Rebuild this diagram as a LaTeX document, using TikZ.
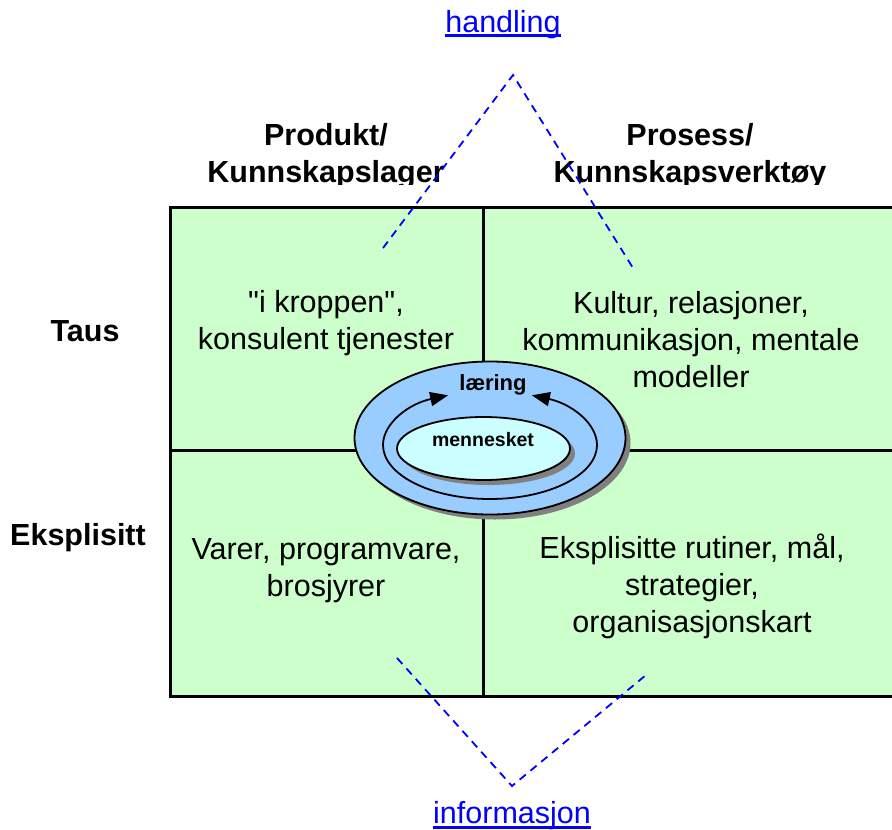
\documentclass[tikz,border=0pt]{standalone}
\usepackage{fontspec}
\setmainfont{Liberation Sans}
\usetikzlibrary{shapes.geometric,shadows,arrows.meta}
\definecolor{cellgreen}{HTML}{CCFFCC}
\definecolor{ringblue}{HTML}{99CCFF}
\definecolor{corecyan}{HTML}{CCFFFF}
\definecolor{linkblue}{HTML}{0000FF}
\definecolor{shadowgray}{HTML}{808080}
\newcommand{\bodyfont}{\fontsize{30.5}{37}\selectfont}
\newcommand{\headfont}{\fontsize{30.5}{37}\selectfont\bfseries}
% straight double quote, set as a glyph so the TeX ligature mapping leaves it alone
\newcommand{\dq}{\XeTeXglyph\XeTeXcharglyph"22\relax}
\tikzset{
  celltext/.style={align=center, font=\bodyfont, inner sep=0pt},
  headtext/.style={align=center, font=\headfont, inner sep=0pt},
  gridline/.style={line width=3pt, black},
  dashline/.style={linkblue, line width=1.8pt, dash pattern=on 8pt off 6pt},
  linklabel/.style={text=linkblue, font=\bodyfont, inner sep=0pt, anchor=base},
  ringshadow/.style={drop shadow={shadow xshift=5pt, shadow yshift=-5pt, fill=shadowgray, opacity=1}},
  cyclearrow/.style={line width=1.8pt, -{Triangle[length=18pt,width=14pt]}},
}
\begin{document}
\begin{tikzpicture}[x=1pt, y=-1pt]
\useasboundingbox (0,0) rectangle (892,830);
\clip (0,0) rectangle (892,830);

% quadrants
\fill[cellgreen] (170,207) rectangle (900,696);
\draw[gridline] (900,207) -- (170,207) -- (170,696) -- (900,696);
\draw[gridline] (483,207) -- (483,696);
\draw[gridline] (170,450) -- (900,450);

% column headers (bottom edge trimmed)
\begin{scope}
  \clip (150,90) rectangle (892,184);
  \node[headtext] (hprod) at (326,156) {Produkt/\\Kunnskapslager};
  \node[headtext] (hpros) at (690,156) {Prosess/\\Kunnskapsverktøy};
\end{scope}

% row headers
\node[headtext] (taus) at (85,331) {Taus};
\node[headtext] (eksp) at (78,538) {Eksplisitt};

% cell texts
\node[celltext] (c11) at (326,323) {\dq i kroppen\dq,\\konsulent tjenester};
\node[celltext] (c12) at (691,340) {Kultur, relasjoner,\\kommunikasjon, mentale\\modeller};
\node[celltext] (c21) at (326,571) {Varer, programvare,\\brosjyrer};
\node[celltext] (c22) at (692,586) {Eksplisitte rutiner, mål,\\strategier,\\organisasjonskart};

% dashed links to the two outer labels
\coordinate (topapex) at (513,75);
\coordinate (topl) at (383,248);
\coordinate (topr) at (633,268);
\coordinate (botapex) at (512,786);
\coordinate (botl) at (397,658);
\coordinate (botr) at (646,675);
\draw[dashline] (topl) -- (topapex) -- (topr);
\draw[dashline] (botl) -- (botapex) -- (botr);

\node[linklabel] (handling) at (503,32) {handling};
\draw[linkblue, line width=2.4pt] ([yshift=-3.5pt]handling.base west) -- ([yshift=-3.5pt]handling.base east);
\node[linklabel] (info) at (512,823) {informasjon};
\draw[linkblue, line width=2.4pt] ([yshift=-4.5pt]info.base west) -- ([yshift=-4.5pt]info.base east);

% central rings
\node[ellipse, draw, line width=1.8pt, fill=ringblue, ringshadow,
      minimum width=271pt, minimum height=153pt, inner sep=0pt] (outer) at (490,438) {};
\coordinate (mid) at (490,445);
\draw[cyclearrow] ([yshift=-54pt]mid) arc[start angle=270, end angle=113, x radius=107pt, y radius=54pt];
\draw[cyclearrow] ([yshift=-54pt]mid) arc[start angle=-90, end angle=67, x radius=107pt, y radius=54pt];
\node[ellipse, draw, line width=1.8pt, fill=corecyan, ringshadow,
      minimum width=173pt, minimum height=63pt, inner sep=0pt] (core) at (483.5,448.5) {};
\node[font=\fontsize{22}{26}\selectfont\bfseries, inner sep=0pt] (laering) at (493,385) {læring};
\node[font=\fontsize{19.5}{24}\selectfont\bfseries, inner sep=0pt] (menn) at (483,440) {mennesket};
\end{tikzpicture}
\end{document}
